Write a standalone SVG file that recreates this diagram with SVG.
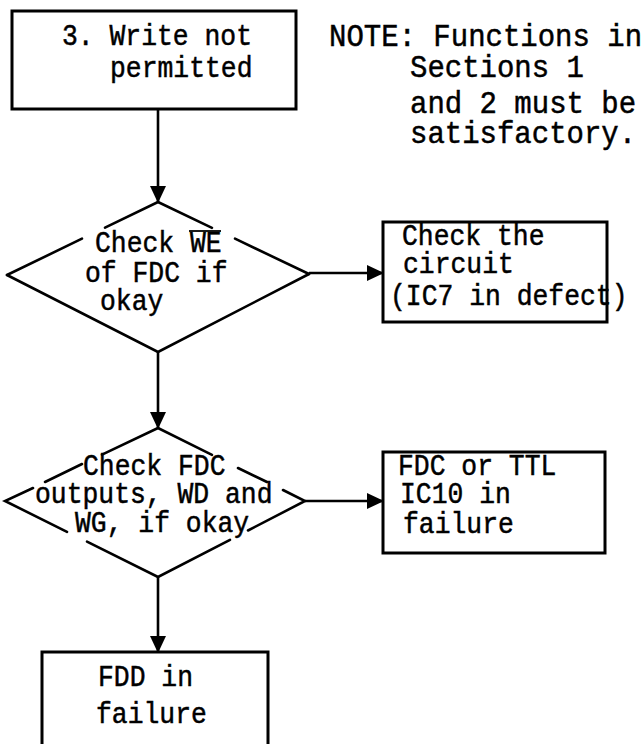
<svg xmlns="http://www.w3.org/2000/svg" width="643" height="744" viewBox="0 0 643 744">
  <defs>
    <style>
      .box { fill: none; stroke: #000; stroke-width: 3; }
      .edge { fill: none; stroke: #000; stroke-width: 2.6; stroke-linecap: round; }
      .link { fill: none; stroke: #000; stroke-width: 2.6; }
      .t { font-family: "Liberation Mono", "Courier New", monospace; font-size: 26.4px; fill: #000; stroke: #000; stroke-width: 0.45; }
      .n { font-size: 29px; }
    </style>
    <marker id="arrow" markerUnits="userSpaceOnUse" markerWidth="18" markerHeight="18" viewBox="0 0 18 18" refX="16" refY="9" orient="auto">
      <path d="M0,1 L17,9 L0,17 z" fill="#000"/>
    </marker>
  </defs>
  <rect width="643" height="744" fill="#fff"/>

  <!-- connectors -->
  <g id="connectors">
    <line class="link" x1="158" y1="109" x2="158" y2="202" marker-end="url(#arrow)"/>
    <line class="link" x1="309" y1="273" x2="383" y2="273" marker-end="url(#arrow)"/>
    <line class="link" x1="158" y1="352" x2="158" y2="428" marker-end="url(#arrow)"/>
    <line class="link" x1="305" y1="501" x2="383" y2="501" marker-end="url(#arrow)"/>
    <line class="link" x1="158" y1="577" x2="158" y2="652" marker-end="url(#arrow)"/>
  </g>

  <!-- start: write not permitted -->
  <g id="start">
    <rect class="box" x="12" y="11" width="284" height="98"/>
    <g transform="translate(62 45) scale(1 1.12)"><text class="t">3. Write not</text></g>
    <g transform="translate(110 77) scale(1 1.12)"><text class="t">permitted</text></g>
  </g>

  <!-- note -->
  <g id="note">
    <g transform="translate(329 46) scale(1 1.05)"><text class="t n">NOTE: Functions in</text></g>
    <g transform="translate(410 77) scale(1 1.05)"><text class="t n">Sections 1</text></g>
    <g transform="translate(410 113) scale(1 1.05)"><text class="t n">and 2 must be</text></g>
    <g transform="translate(410 143) scale(1 1.05)"><text class="t n">satisfactory.</text></g>
  </g>

  <!-- decision: WE of FDC -->
  <g id="check-we">
    <polyline class="edge" points="105,227.6 158,202 212,227.8"/>
    <line class="edge" x1="82" y1="238.7" x2="7" y2="275"/>
    <line class="edge" x1="235" y1="238.7" x2="309" y2="274"/>
    <polyline class="edge" points="7,275 158,352 309,274"/>
    <g transform="translate(95 252) scale(1 1.12)"><text class="t">Check WE</text></g>
    <line x1="189" y1="231" x2="221" y2="231" stroke="#000" stroke-width="1.8"/>
    <g transform="translate(85 282) scale(1 1.12)"><text class="t">of FDC if</text></g>
    <g transform="translate(100 310) scale(1 1.12)"><text class="t">okay</text></g>
  </g>

  <!-- result: IC7 defect -->
  <g id="check-circuit">
    <rect class="box" x="383" y="222" width="224" height="100"/>
    <g transform="translate(402 245) scale(1 1.12)"><text class="t">Check the</text></g>
    <g transform="translate(403 273) scale(1 1.12)"><text class="t">circuit</text></g>
    <g transform="translate(390 305) scale(1 1.12)"><text class="t">(IC7 in defect)</text></g>
  </g>

  <!-- decision: FDC outputs -->
  <g id="check-outputs">
    <polyline class="edge" points="102,454.7 158,428 212,454.8"/>
    <line class="edge" x1="82" y1="464" x2="45" y2="482"/>
    <line class="edge" x1="238" y1="468" x2="267" y2="482"/>
    <polyline class="edge" points="33,488 5,501 67,531.8"/>
    <polyline class="edge" points="283,490 305,501 248,530.5"/>
    <polyline class="edge" points="87,541.7 158,577 230,539.8"/>
    <g transform="translate(83 475) scale(1 1.12)"><text class="t">Check FDC</text></g>
    <g transform="translate(35 503) scale(1 1.12)"><text class="t">outputs, WD and</text></g>
    <g transform="translate(75 532) scale(1 1.12)"><text class="t">WG, if okay</text></g>
  </g>

  <!-- result: FDC or TTL failure -->
  <g id="fdc-failure">
    <rect class="box" x="383" y="452" width="222" height="101"/>
    <g transform="translate(398 475) scale(1 1.12)"><text class="t">FDC or TTL</text></g>
    <g transform="translate(400 503) scale(1 1.12)"><text class="t">IC10 in</text></g>
    <g transform="translate(403 533) scale(1 1.12)"><text class="t">failure</text></g>
  </g>

  <!-- result: FDD failure -->
  <g id="fdd-failure">
    <path class="box" d="M42,750 V652 H268 V750"/>
    <g transform="translate(98 686) scale(1 1.12)"><text class="t">FDD in</text></g>
    <g transform="translate(96 723) scale(1 1.12)"><text class="t">failure</text></g>
  </g>
</svg>
